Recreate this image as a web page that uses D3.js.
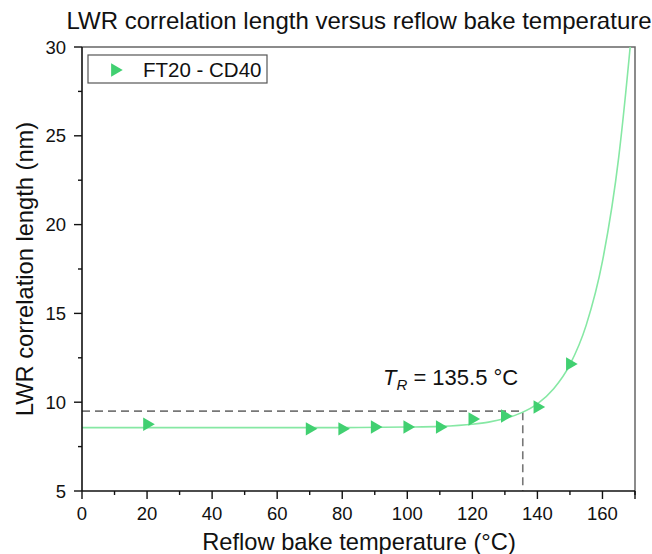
<!DOCTYPE html>
<html><head><meta charset="utf-8">
<script src="https://cdn.jsdelivr.net/npm/d3@7"></script>
<style>body{margin:0;background:#fff}svg{display:block}text{font-family:"Liberation Sans",Arial,sans-serif}</style>
</head><body><svg id="c" width="652" height="554"></svg>
<script>
// data
const dataX = [20, 70, 80, 90, 100, 110, 120, 130, 140, 150];
const dataY = [8.76, 8.5, 8.5, 8.6, 8.6, 8.6, 9.05, 9.22, 9.73, 12.15];
// fitted curve as drawn
const fitX = [0, 20, 40, 60, 80, 100, 110, 120, 125, 130, 135, 140, 145, 150, 155, 160, 165, 168.5, 170];
const fitY = [8.57, 8.57, 8.57, 8.57, 8.57, 8.6, 8.64, 8.76, 8.88, 9.08, 9.4, 9.91, 10.76, 12.12, 14.34, 17.94, 23.8, 29.97, 33];
const xTicks = [0, 20, 40, 60, 80, 100, 120, 140, 160];
const yTicks = [5, 10, 15, 20, 25, 30];
const trX = 135.5, trY = 9.5;
const seriesName = "FT20 - CD40";
const title = "LWR correlation length versus reflow bake temperature";
const xTitle = "Reflow bake temperature (°C)";
const yTitle = "LWR correlation length (nm)";

const svg = d3.select("#c");
const L = 82, R = 635, T = 47, B = 491;
const x = d3.scaleLinear().domain([0, 170]).range([L, R]);
const y = d3.scaleLinear().domain([5, 30]).range([B, T]);
const mColor = "#41d071", lColor = "#86e8a4";

svg.append("defs").append("clipPath").attr("id", "clip")
  .append("rect").attr("x", L).attr("y", T).attr("width", R - L).attr("height", B - T);

// title
svg.append("text").attr("x", 359).attr("y", 29).attr("text-anchor", "middle")
  .attr("font-size", 24).attr("fill", "#111").text(title);

// frame top/right
svg.append("path").attr("d", `M${L},${T}H${R}V${B}`).attr("fill", "none")
  .attr("stroke", "#666").attr("stroke-width", 1.5);

// dashed guide lines
svg.append("path").attr("d", `M${x(0)},${y(trY)}H${x(trX)}V${B}`)
  .attr("fill", "none").attr("stroke", "#777").attr("stroke-width", 1.6)
  .attr("stroke-dasharray", "8,5");

// fit curve
const line = d3.line().x((d, i) => x(fitX[i])).y((d, i) => y(fitY[i])).curve(d3.curveMonotoneX);
svg.append("path").datum(fitY).attr("d", line).attr("fill", "none")
  .attr("stroke", lColor).attr("stroke-width", 1.6).attr("clip-path", "url(#clip)");

// markers
const sym = d3.symbol().type(d3.symbolTriangle).size(78);
svg.selectAll("path.pt").data(dataX).join("path").attr("class", "pt")
  .attr("d", sym)
  .attr("transform", (d, i) => `translate(${x(d)},${y(dataY[i])}) rotate(90)`)
  .attr("fill", mColor);

// x axis
const xAxis = svg.append("g").attr("transform", `translate(0,${B})`);
xAxis.append("path").attr("d", `M${L},0H${R}`).attr("stroke", "#111").attr("stroke-width", 1.6);
const minorX = d3.range(10, 171, 20);
xAxis.selectAll("line.mi").data(minorX).join("line").attr("x1", d => x(d)).attr("x2", d => x(d))
  .attr("y1", 0).attr("y2", 4).attr("stroke", "#111").attr("stroke-width", 1.4);
xAxis.selectAll("line.ma").data(xTicks.concat([170])).join("line").attr("x1", d => x(d)).attr("x2", d => x(d))
  .attr("y1", 0).attr("y2", 8).attr("stroke", "#111").attr("stroke-width", 1.4);
xAxis.selectAll("text").data(xTicks).join("text").attr("x", d => x(d)).attr("y", 29)
  .attr("text-anchor", "middle").attr("font-size", 18.5).attr("fill", "#111").text(d => d);

// y axis
const yAxis = svg.append("g");
yAxis.append("path").attr("d", `M${L},${T}V${B}`).attr("stroke", "#111").attr("stroke-width", 1.6);
const minorY = [7.5, 12.5, 17.5, 22.5, 27.5];
yAxis.selectAll("line.mi").data(minorY).join("line").attr("x1", L - 4).attr("x2", L)
  .attr("y1", d => y(d)).attr("y2", d => y(d)).attr("stroke", "#111").attr("stroke-width", 1.4);
yAxis.selectAll("line.ma").data(yTicks).join("line").attr("x1", L - 8).attr("x2", L)
  .attr("y1", d => y(d)).attr("y2", d => y(d)).attr("stroke", "#111").attr("stroke-width", 1.4);
yAxis.selectAll("text").data(yTicks).join("text").attr("x", L - 16).attr("y", d => y(d) + 6.5)
  .attr("text-anchor", "end").attr("font-size", 18.5).attr("fill", "#111").text(d => d);

// axis titles
svg.append("text").attr("x", 359).attr("y", 550).attr("text-anchor", "middle")
  .attr("font-size", 23.7).attr("fill", "#111").text(xTitle);
svg.append("text").attr("transform", `translate(33,${(T + B) / 2}) rotate(-90)`)
  .attr("text-anchor", "middle").attr("font-size", 23.7).attr("fill", "#111").text(yTitle);

// legend
svg.append("rect").attr("x", 88).attr("y", 55).attr("width", 179).attr("height", 28)
  .attr("fill", "#fff").attr("stroke", "#555").attr("stroke-width", 1.2);
svg.append("path").attr("d", sym).attr("transform", "translate(115,70) rotate(90)").attr("fill", mColor);
svg.append("text").attr("x", 143).attr("y", 77).attr("font-size", 20.5).attr("fill", "#111").text(seriesName);

// annotation
const ann = svg.append("text").attr("x", 383).attr("y", 385).attr("font-size", 22).attr("fill", "#111");
ann.append("tspan").attr("font-style", "italic").text("T");
ann.append("tspan").attr("font-style", "italic").attr("font-size", 15).attr("dy", 5).text("R");
ann.append("tspan").attr("dy", -5).text(" = " + trX + " °C");
</script></body></html>
